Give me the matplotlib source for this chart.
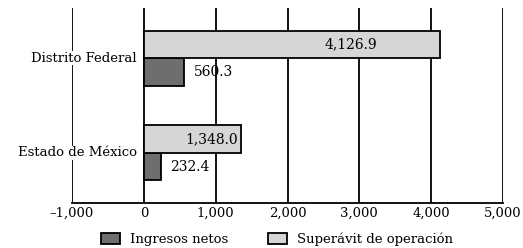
import matplotlib
matplotlib.use("Agg")
import matplotlib.pyplot as plt
import matplotlib.transforms as mtransforms
import numpy as np

categories = ["Estado de México", "Distrito Federal"]
ingresos_netos = [232.4, 560.3]
superavit = [1348.0, 4126.9]
series_names = ["Ingresos netos", "Superávit de operación"]
xticks = [-1000, 0, 1000, 2000, 3000, 4000, 5000]
xtick_labels = ["–1,000", "0", "1,000", "2,000", "3,000", "4,000", "5,000"]

dark = "#6e6e6e"
light = "#d6d6d6"
fam = "DejaVu Serif"

fig = plt.figure(figsize=(5.23, 2.48), dpi=100)
ax = fig.add_axes([72/523, 1-203/248, (503-72)/523, (203-8)/248])

y = np.arange(len(categories))
h = 0.29
ax.barh(y - h/2, ingresos_netos, height=h, color=dark, edgecolor="black", linewidth=1.3,
        label=series_names[0], zorder=3)
ax.barh(y + h/2, superavit, height=h, color=light, edgecolor="black", linewidth=1.3,
        label=series_names[1], zorder=3)

for yi, v in zip(y, superavit):
    ax.text(v * 0.7, yi + h/2, f"{v:,.1f}", ha="center", va="center", fontsize=10,
            family=fam, zorder=4)
for yi, v in zip(y, ingresos_netos):
    ax.annotate(f"{v:,.1f}", (v, yi - h/2), xytext=(7, 0), textcoords="offset points",
                ha="left", va="center", fontsize=10, family=fam, zorder=4)

# category labels sit just left of the zero line
off = mtransforms.offset_copy(ax.transData, fig=fig, x=-5, y=0, units="points")
for yi, c in zip(y, categories):
    ax.text(0, yi, c, transform=off, ha="right", va="center", fontsize=9.5, family=fam,
            zorder=5, bbox=dict(facecolor="white", edgecolor="none", pad=0.5))

ax.set_xlim(-1000, 5000)
ax.set_ylim(-0.53, 1.53)
ax.set_xticks(xticks)
ax.set_xticklabels(xtick_labels, family=fam, fontsize=9.5)
ax.set_yticks([])
ax.tick_params(axis="both", length=0, pad=3)
ax.grid(axis="x", color="black", linewidth=1.3, zorder=0)
for s in ["top", "left", "right"]:
    ax.spines[s].set_visible(False)
ax.spines["bottom"].set_linewidth(1.3)

leg = fig.legend(loc="lower center", bbox_to_anchor=(0.53, -0.04), ncol=2, frameon=False,
                 prop={"family": fam, "size": 9.5}, handlelength=1.4,
                 handleheight=0.8, columnspacing=3)
fig.savefig("out.png", dpi=100)
